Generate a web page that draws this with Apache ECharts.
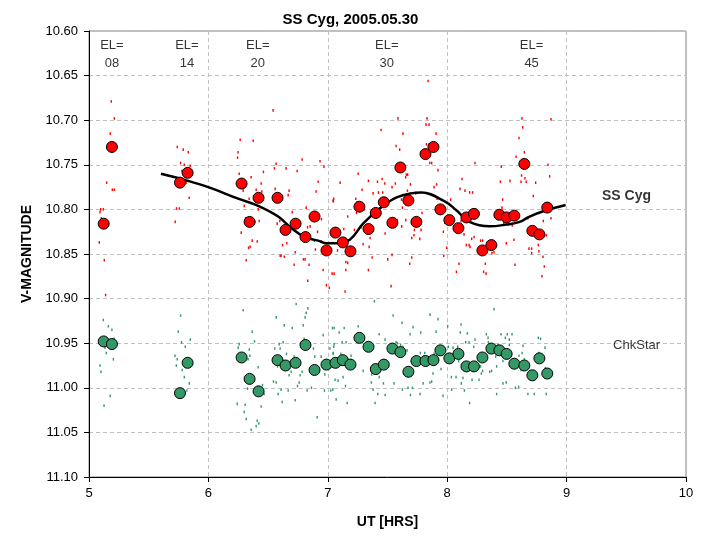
<!DOCTYPE html>
<html>
<head>
<meta charset="utf-8">
<script src="https://cdn.jsdelivr.net/npm/echarts@6/dist/echarts.min.js"></script>
<style>
html,body{margin:0;padding:0;background:#fff;}
#c{width:701px;height:542px;}
</style>
</head>
<body>
<div id="c"></div>
<script>
// ---- data ----
const chartTitle = 'SS Cyg, 2005.05.30';
const xTicks = [5, 6, 7, 8, 9, 10];
const yTicks = ['10.60','10.65','10.70','10.75','10.80','10.85','10.90','10.95','11.00','11.05','11.10'];

// averaged points (shared times)
const obsTime = [5.123,5.192,5.762,5.826,6.278,6.345,6.420,6.579,6.646,6.730,6.813,6.889,6.989,7.064,7.126,7.190,7.265,7.341,7.402,7.469,7.541,7.608,7.675,7.742,7.818,7.885,7.943,8.018,8.094,8.161,8.224,8.295,8.370,8.437,8.498,8.562,8.646,8.713,8.772,8.838];
const ssMag = [10.816,10.730,10.770,10.759,10.771,10.814,10.787,10.787,10.823,10.816,10.831,10.808,10.846,10.826,10.837,10.847,10.797,10.822,10.804,10.792,10.815,10.753,10.790,10.814,10.738,10.730,10.800,10.812,10.821,10.809,10.805,10.846,10.840,10.806,10.809,10.807,10.749,10.824,10.828,10.798];
const chkMag = [10.948,10.951,11.006,10.972,10.966,10.990,11.004,10.969,10.975,10.972,10.952,10.980,10.974,10.972,10.969,10.974,10.944,10.954,10.979,10.974,10.956,10.960,10.982,10.970,10.970,10.969,10.958,10.967,10.962,10.976,10.976,10.966,10.956,10.958,10.962,10.973,10.975,10.986,10.967,10.984];

// smoothed trend
const fitTime = [5.603,5.803,5.998,6.249,6.417,6.584,6.696,6.808,6.919,6.989,7.059,7.184,7.295,7.435,7.588,7.784,7.979,8.077,8.188,8.356,8.495,8.607,8.690,8.830,8.992];
const fitMag  = [10.760,10.767,10.775,10.788,10.796,10.808,10.821,10.831,10.835,10.838,10.838,10.834,10.816,10.799,10.786,10.781,10.791,10.801,10.814,10.819,10.817,10.814,10.808,10.801,10.795];

// individual measurements [time, mag]
const ssRaw = [
[5.178,10.715],[5.148,10.770],[5.195,10.778],[5.212,10.778],[5.098,10.800],[5.120,10.800],[5.092,10.803],[5.103,10.810],[5.086,10.837],[5.128,10.857],[5.139,10.896],
[5.739,10.730],[5.789,10.733],[5.831,10.736],[5.767,10.748],[5.798,10.750],[5.848,10.751],[5.778,10.757],[5.814,10.770],[5.839,10.787],[5.733,10.799],[5.756,10.799],[5.722,10.814],
[6.266,10.722],[6.375,10.723],[6.249,10.736],[6.244,10.742],[6.258,10.760],[6.358,10.764],[6.291,10.779],[6.400,10.778],[6.447,10.780],[6.442,10.771],[6.461,10.758],[6.341,10.788],[6.417,10.800],[6.300,10.796],[6.311,10.810],[6.389,10.814],[6.425,10.813],[6.275,10.826],[6.367,10.835],[6.409,10.836],[6.336,10.843],[6.350,10.842],[6.317,10.857],
[6.567,10.749],[6.553,10.754],[6.651,10.754],[6.743,10.757],[6.785,10.744],[6.559,10.777],[6.676,10.779],[6.668,10.784],[6.598,10.813],[6.576,10.816],[6.621,10.822],[6.702,10.803],[6.819,10.798],[6.830,10.820],[6.852,10.819],[6.947,10.811],[6.914,10.825],[6.657,10.838],[6.621,10.840],[6.609,10.852],[6.601,10.852],[6.635,10.853],[6.727,10.848],[6.718,10.862],[6.796,10.856],[6.810,10.856],[6.843,10.862],[6.832,10.880],[6.888,10.835],[6.896,10.845],[6.935,10.746],[6.968,10.752],[6.919,10.769],[6.902,10.780],[6.947,10.836],[6.961,10.868],[7.036,10.872],[6.988,10.885],[7.013,10.888],[7.044,10.790],
[5.187,10.679],[5.212,10.698],[6.542,10.689],[7.840,10.656],[7.588,10.698],[7.831,10.698],[8.626,10.698],[8.869,10.699],
[7.446,10.711],[7.630,10.715],[7.823,10.705],[7.848,10.705],[7.907,10.715],[7.826,10.727],[7.848,10.727],[7.870,10.748],[7.854,10.748],[7.923,10.756],[7.572,10.729],[7.602,10.733],[7.658,10.761],[7.669,10.761],[7.652,10.764],[7.692,10.772],[7.667,10.779],[7.617,10.789],[7.625,10.798],[7.455,10.766],[7.477,10.771],[7.416,10.769],[7.566,10.771],[7.538,10.775],[7.424,10.781],[7.460,10.781],[7.379,10.782],[7.340,10.768],[7.287,10.778],[7.254,10.760],[7.103,10.770],[7.050,10.788],[7.047,10.791],[7.234,10.788],[7.245,10.792],[7.287,10.798],[7.304,10.800],[7.240,10.804],[7.167,10.808],[7.134,10.822],[7.223,10.823],[7.281,10.820],[7.343,10.823],[7.382,10.823],[7.354,10.832],[7.296,10.839],[7.081,10.846],[7.167,10.860],[7.151,10.859],[7.053,10.872],[7.145,10.892],[7.151,10.868],[7.346,10.842],[7.371,10.854],[7.340,10.868],[7.502,10.856],[7.530,10.886],[7.538,10.851],[7.480,10.827],[7.513,10.813],[7.580,10.812],[7.653,10.812],[7.619,10.819],[7.703,10.832],[7.703,10.854],[7.686,10.861],[7.725,10.823],[7.722,10.829],[7.781,10.823],[7.770,10.833],[7.789,10.804],[7.736,10.782],[7.692,10.782],[7.911,10.772],[7.890,10.775],[7.915,10.788],[7.968,10.825],[7.979,10.815],[7.996,10.843],[7.971,10.852],[8.029,10.789],[8.026,10.808],[8.034,10.815],[8.088,10.819],[8.091,10.826],[8.116,10.813],[8.124,10.766],[8.107,10.777],[8.149,10.779],[8.188,10.781],[8.213,10.781],[8.216,10.804],[8.141,10.828],[8.160,10.840],[8.183,10.840],[8.191,10.842],[8.205,10.833],[8.225,10.831],[8.233,10.748],[8.099,10.861],[8.077,10.870],[8.280,10.835],[8.297,10.835],[8.319,10.861],[8.305,10.870],[8.325,10.872],[8.375,10.849],[8.392,10.848],[8.464,10.789],[8.459,10.798],[8.453,10.752],[8.445,10.769],[8.526,10.768],[8.473,10.815],[8.545,10.818],[8.495,10.838],[8.568,10.862],[8.559,10.834],[8.618,10.769],[8.623,10.762],[8.646,10.736],[8.632,10.708],[8.601,10.720],[8.651,10.765],[8.662,10.769],[8.676,10.810],[8.685,10.844],[8.707,10.844],[8.721,10.785],[8.741,10.770],[8.763,10.840],[8.707,10.849],[8.768,10.847],[8.813,10.864],[8.802,10.853],[8.794,10.875],[8.805,10.813],[8.830,10.829],[8.844,10.750],[8.858,10.763],[8.869,10.810],[8.577,10.741]
];
const chkRaw = [
[5.120,10.924],[5.162,10.931],[5.192,10.935],[5.212,10.945],[5.134,10.955],[5.145,10.961],[5.204,10.968],[5.092,10.975],[5.100,10.982],[5.178,11.009],[5.126,11.020],
[5.767,10.919],[5.748,10.937],[5.775,10.949],[5.806,10.954],[5.848,10.946],[5.720,10.964],[5.739,10.968],[5.731,10.975],[5.781,10.980],[5.798,10.988],[5.840,10.995],[5.820,11.003],
[6.291,10.913],[6.367,10.937],[6.386,10.948],[6.250,10.955],[6.342,10.957],[6.347,10.964],[6.258,10.951],[6.333,10.968],[6.417,10.977],[6.453,10.997],[6.467,11.007],[6.328,11.001],[6.442,11.021],[6.241,11.018],[6.308,11.019],[6.300,11.027],[6.317,11.035],[6.409,11.037],[6.422,11.040],[6.400,11.043],[6.358,11.047],
[6.568,10.921],[6.635,10.930],[6.702,10.933],[6.735,10.906],[6.833,10.911],[6.819,10.916],[6.810,10.921],[6.794,10.930],[6.802,10.945],[6.593,10.951],[6.626,10.949],[6.556,10.956],[6.601,10.956],[6.654,10.962],[6.718,10.965],[6.579,10.976],[6.657,10.978],[6.676,10.986],[6.693,10.982],[6.755,10.976],[6.785,10.982],[6.768,10.986],[6.760,10.994],[6.746,10.998],[6.545,10.993],[6.568,10.994],[6.584,11.007],[6.609,11.002],[6.668,11.003],[6.618,11.016],[6.727,11.014],[6.827,11.003],[6.863,11.000],[6.911,11.033],[6.880,10.956],[6.891,10.965],[6.944,10.965],[6.961,10.941],[6.975,10.985],[6.972,11.003],[6.994,10.976],[7.017,10.956],[7.025,11.003],[7.039,10.933],[7.045,10.961],[7.053,10.951],
[7.390,10.903],[7.053,10.933],[7.095,10.938],[7.137,10.933],[7.254,10.931],[7.050,10.954],[7.120,10.949],[7.153,10.949],[7.109,10.962],[7.045,10.962],[7.195,10.964],[7.195,10.969],[7.296,10.981],[7.061,10.991],[7.086,10.992],[7.128,10.988],[7.042,11.002],[7.148,10.998],[7.070,11.013],[7.162,11.017],
[7.547,10.919],[7.622,10.927],[7.430,10.940],[7.480,10.946],[7.572,10.949],[7.583,10.950],[7.610,10.952],[7.630,10.954],[7.714,10.932],[7.689,10.940],[7.778,10.938],[7.856,10.918],[7.923,10.923],[7.907,10.937],[7.664,10.958],[7.775,10.961],[7.812,10.961],[7.803,10.965],[7.890,10.962],[7.842,10.971],[7.881,10.984],[7.948,10.979],[7.636,10.984],[7.368,10.985],[7.430,10.988],[7.466,10.995],[7.365,10.994],[7.418,11.007],[7.396,11.017],[7.379,11.002],[7.480,11.008],[7.555,10.995],[7.625,11.002],[7.672,11.000],[7.709,11.000],[7.692,11.008],[7.773,11.007],[7.798,10.995],[7.856,10.994],[7.870,10.993],[7.965,11.009],
[8.004,10.931],[8.116,10.929],[8.110,10.938],[8.169,10.939],[8.010,10.954],[8.088,10.954],[8.049,10.955],[8.155,10.949],[8.222,10.954],[8.183,10.949],[8.233,10.946],[8.096,10.970],[8.035,10.988],[8.074,10.988],[8.118,10.995],[8.132,10.989],[8.208,10.991],[8.266,10.991],[8.144,11.003],[8.188,11.017],[8.038,11.002],
[8.392,10.912],[8.328,10.940],[8.345,10.949],[8.342,10.944],[8.451,10.940],[8.503,10.940],[8.543,10.940],[8.520,10.946],[8.487,10.944],[8.520,10.952],[8.425,10.952],[8.406,10.965],[8.414,10.976],[8.467,10.970],[8.467,10.995],[8.495,10.994],[8.372,10.981],[8.356,10.982],[8.297,10.981],[8.280,10.976],[8.414,11.007],[8.286,10.984],
[8.635,10.953],[8.627,10.961],[8.646,10.968],[8.665,10.972],[8.618,10.980],[8.601,10.964],[8.763,10.944],[8.782,10.945],[8.819,10.955],[8.766,10.961],[8.822,10.978],[8.811,10.982],[8.686,10.988],[8.598,10.999],[8.571,11.000],[8.690,10.989],[8.676,11.007],[8.729,11.007],[8.830,11.007],[8.724,10.991]
];

// annotations: elevation labels and series names
const elTime  = [5.192, 5.820, 6.414, 7.494, 8.707];
const elText  = ['08', '14', '20', '30', '45'];
const elMag   = 10.626;
const nameLabels = [
  {text: 'SS Cyg',  t: 9.502, m: 10.785, bold: true},
  {text: 'ChkStar', t: 9.586, m: 10.953, bold: false}
];

// ---- chart ----
const FONT = 'Liberation Sans, Arial, sans-serif';
const RED = '#ff0000';
const GREEN = '#339966';
const chart = echarts.init(document.getElementById('c'), null, {renderer: 'canvas'});

const option = {
  backgroundColor: '#ffffff',
  animation: false,
  title: {
    text: chartTitle, left: 'center', top: 7,
    textStyle: {fontFamily: FONT, fontSize: 15, fontWeight: 'bold', color: '#000'}
  },
  grid: {left: 89, right: 15, top: 31, bottom: 65, show: true, borderColor: '#808080', borderWidth: 1, backgroundColor: 'transparent'},
  xAxis: {
    type: 'value', min: xTicks[0], max: xTicks[xTicks.length - 1], interval: 1,
    name: 'UT [HRS]', nameLocation: 'middle', nameGap: 38,
    nameTextStyle: {fontFamily: FONT, fontSize: 14, fontWeight: 'bold', color: '#000'},
    axisLine: {lineStyle: {color: '#000', width: 1}},
    axisTick: {show: true, length: 5, lineStyle: {color: '#000'}},
    axisLabel: {fontFamily: FONT, fontSize: 13, color: '#000', margin: 10},
    splitLine: {show: true, lineStyle: {color: '#c0c0c0', type: [4, 3], width: 1}}
  },
  yAxis: {
    type: 'value', inverse: true, min: 10.6, max: 11.1, interval: 0.05,
    name: 'V-MAGNITUDE', nameLocation: 'middle', nameGap: 51, nameRotate: 90,
    nameTextStyle: {fontFamily: FONT, fontSize: 14, fontWeight: 'bold', color: '#000'},
    axisLine: {show: true, lineStyle: {color: '#000', width: 1}},
    axisTick: {show: true, length: 5, lineStyle: {color: '#000'}},
    axisLabel: {
      fontFamily: FONT, fontSize: 13, color: '#000', margin: 11,
      formatter: function (v) {
        const s = v.toFixed(2);
        return yTicks.indexOf(s) >= 0 ? s : '';
      }
    },
    splitLine: {show: true, lineStyle: {color: '#c0c0c0', type: [4, 3], width: 1}}
  },
  series: [
    {
      type: 'scatter', name: 'SS Cyg raw', data: ssRaw, symbol: 'rect', symbolSize: [1.4, 2.6],
      itemStyle: {color: RED, opacity: 1}, silent: true, z: 2
    },
    {
      type: 'scatter', name: 'ChkStar raw', data: chkRaw, symbol: 'rect', symbolSize: [1.4, 2.6],
      itemStyle: {color: GREEN, opacity: 1}, silent: true, z: 2
    },
    {
      type: 'line', name: 'fit', data: fitTime.map((t, i) => [t, fitMag[i]]),
      smooth: 0.4, showSymbol: false, symbol: 'none',
      lineStyle: {color: '#000', width: 2.5}, z: 3
    },
    {
      type: 'scatter', name: 'SS Cyg', data: obsTime.map((t, i) => [t, ssMag[i]]),
      symbol: 'circle', symbolSize: 11,
      itemStyle: {color: RED, borderColor: '#000', borderWidth: 1, opacity: 1}, z: 4
    },
    {
      type: 'scatter', name: 'ChkStar', data: obsTime.map((t, i) => [t, chkMag[i]]),
      symbol: 'circle', symbolSize: 11,
      itemStyle: {color: GREEN, borderColor: '#000', borderWidth: 1, opacity: 1}, z: 4
    },
    {
      type: 'scatter', name: 'EL', data: elTime.map((t, i) => ({value: [t, elMag], txt: elText[i]})),
      symbolSize: 0, silent: true, z: 5,
      label: {
        show: true, position: 'inside', fontFamily: FONT, fontSize: 13, color: '#000', lineHeight: 18, align: 'center',
        formatter: function (p) { return 'EL=\n' + p.data.txt; }
      }
    },
    {
      type: 'scatter', name: 'names',
      data: nameLabels.map(n => ({value: [n.t, n.m], txt: n.text, bold: n.bold,
        label: {fontWeight: n.bold ? 'bold' : 'normal', fontSize: n.bold ? 14 : 13}})),
      symbolSize: 0, silent: true, z: 5,
      label: {
        show: true, position: 'inside', fontFamily: FONT, color: '#000',
        formatter: function (p) { return p.data.txt; }
      }
    }
  ]
};
chart.setOption(option);
</script>
</body>
</html>
